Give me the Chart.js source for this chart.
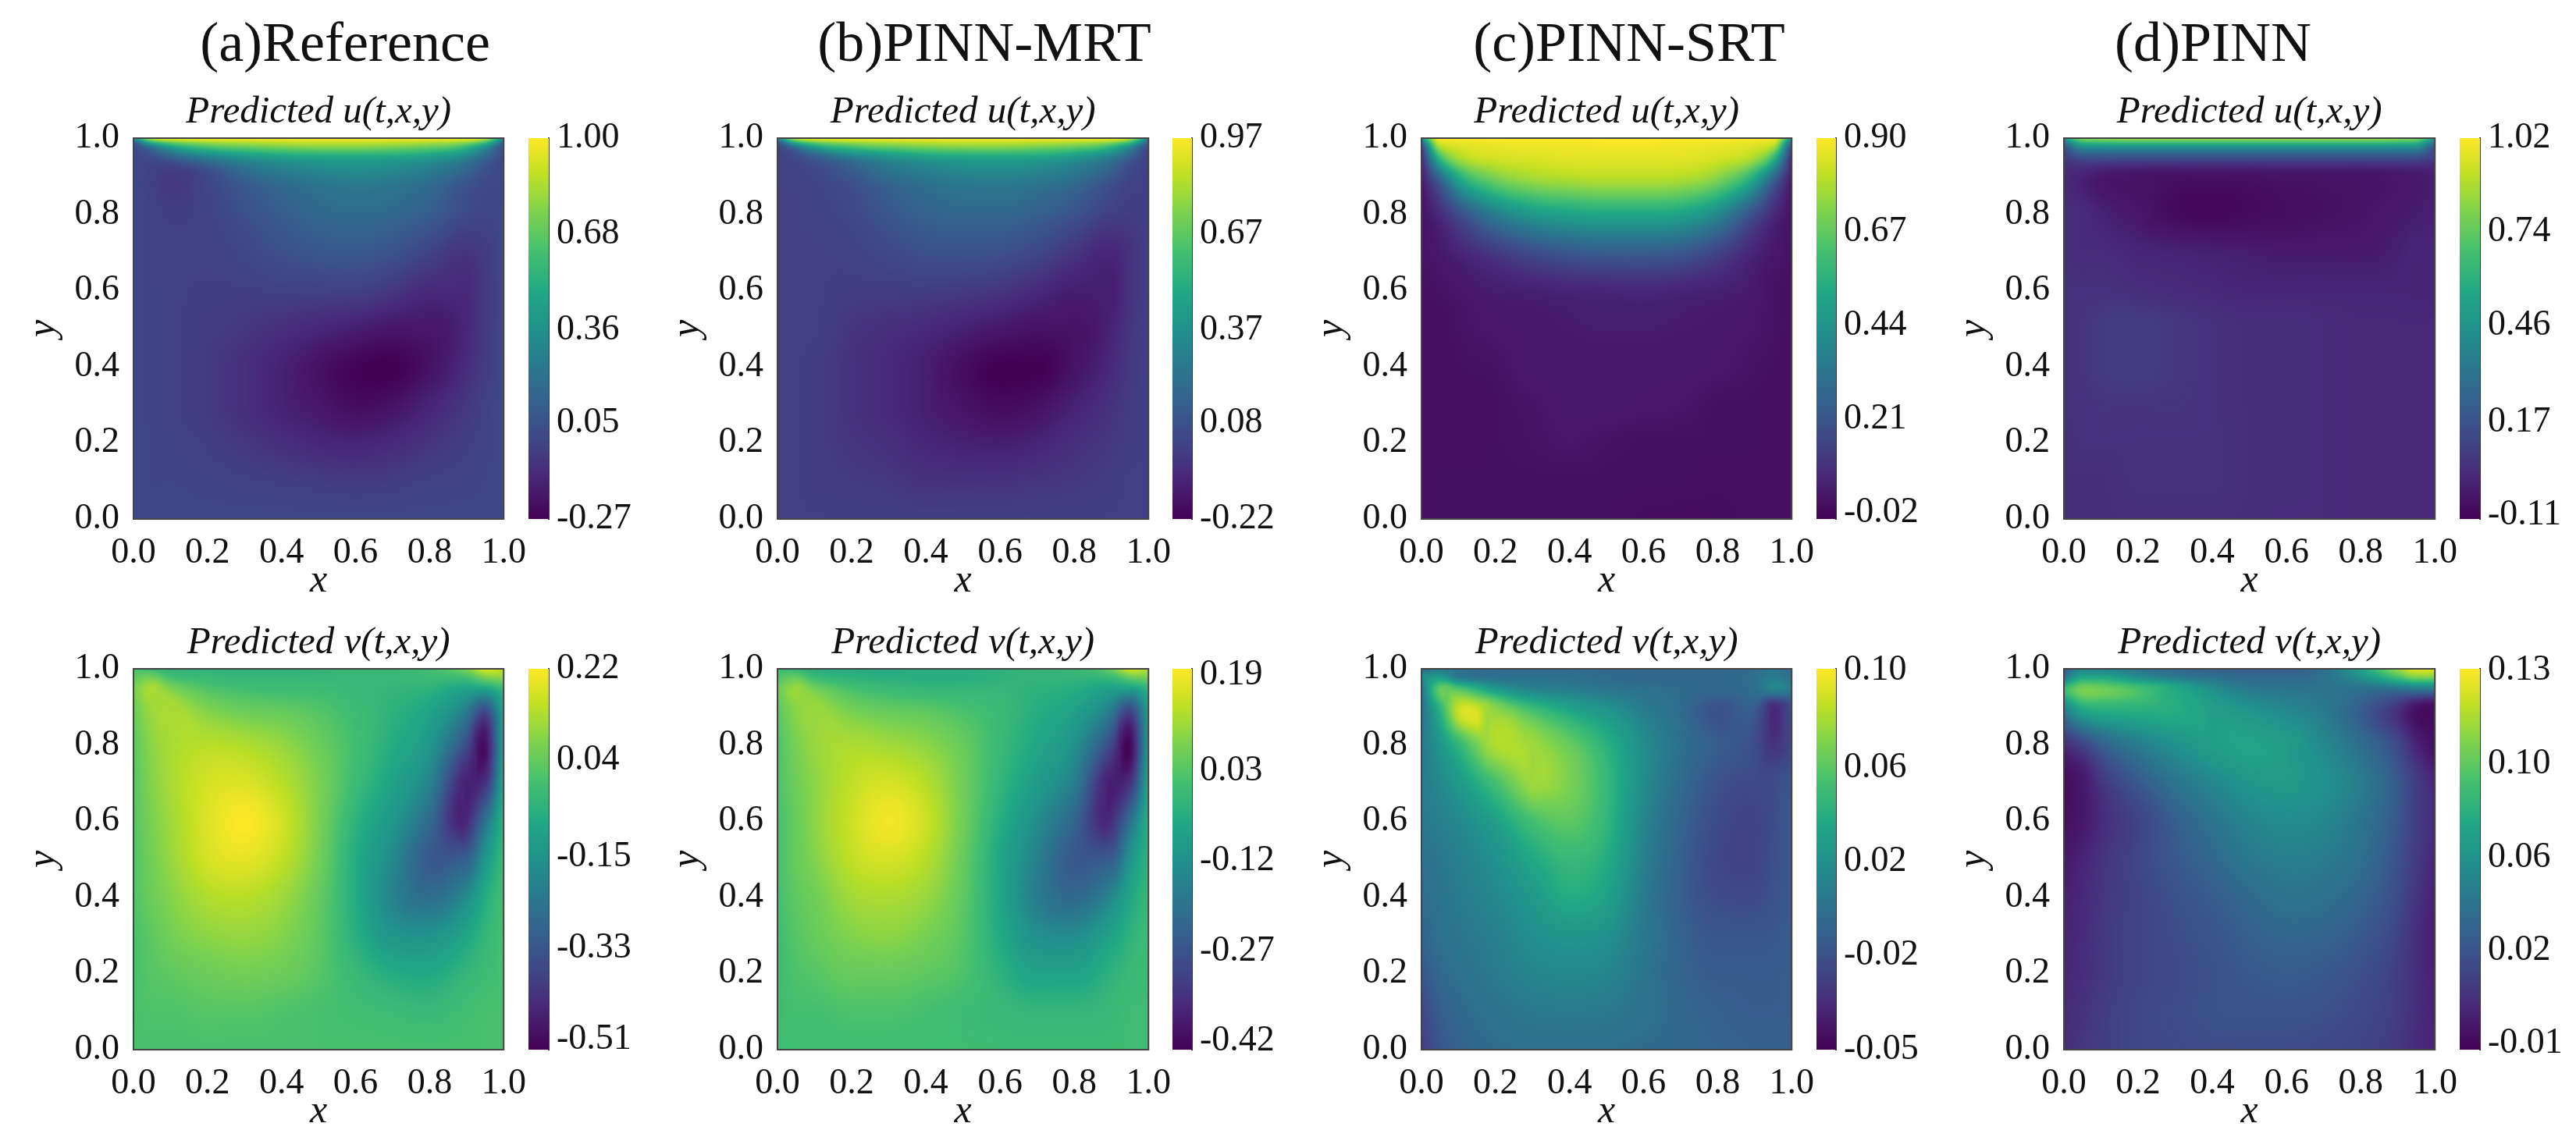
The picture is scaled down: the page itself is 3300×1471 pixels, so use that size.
<!DOCTYPE html>
<html lang="en">
<head>
<meta charset="UTF-8">
<title>Lid-driven cavity predictions</title>
<script src="https://cdn.jsdelivr.net/npm/chart.js"></script>
<style>
    body { margin: 0; background: #fff; width: 3300px; height: 1471px; position: relative; overflow: hidden; }
    canvas { position: absolute; }
    .head { position: absolute; top: 18px; font: 72px/72px "Liberation Serif", serif; color: #111; transform: translateX(-50%); white-space: nowrap; }
</style>
</head>
<body>
<script>
// grid nodes the values were read at. rows below go from y=1 (top) down to y=0
const xNodes = [0, .05, .1, .2, .3, .4, .5, .6, .7, .8, .9, .95, 1];
const yNodes = [1, .98, .95, .9, .8, .7, .6, .5, .4, .3, .2, .1, 0];

const uRef = [
    [.30, .90, 1.0, 1.0, 1.0, 1.0, 1.0, 1.0, 1.0, 1.0, 1.0, .90, .30],
    [.00, .30, .50, .68, .74, .78, .80, .80, .78, .74, .62, .42, .05],
    [.00, .03, .12, .28, .38, .44, .48, .49, .47, .42, .30, .15, .00],
    [.00, -.03, -.06, .00, .14, .22, .27, .30, .28, .22, .10, .03, .00],
    [.00, -.02, -.04, -.02, .04, .10, .15, .17, .15, .10, .01, -.01, .00],
    [.00, -.02, -.03, -.03, .00, .04, .07, .08, .05, -.02, -.08, -.05, .00],
    [.00, -.02, -.03, -.04, -.04, -.03, -.03, -.03, -.07, -.12, -.12, -.06, .00],
    [.00, -.02, -.03, -.05, -.07, -.10, -.13, -.16, -.19, -.19, -.13, -.06, .00],
    [.00, -.02, -.03, -.06, -.10, -.15, -.21, -.26, -.27, -.21, -.11, -.05, .00],
    [.00, -.02, -.03, -.06, -.10, -.15, -.19, -.23, -.21, -.14, -.07, -.03, .00],
    [.00, -.01, -.02, -.04, -.07, -.10, -.13, -.14, -.12, -.08, -.04, -.02, .00],
    [.00, -.01, -.01, -.02, -.03, -.04, -.05, -.06, -.05, -.03, -.02, -.01, .00],
    [.00, .00, .00, .00, .00, .00, .00, .00, .00, .00, .00, .00, .00]
];
const uMrt = [
    [.30, .88, .97, .97, .97, .97, .97, .97, .97, .97, .97, .88, .30],
    [.00, .30, .50, .66, .72, .76, .78, .78, .76, .72, .60, .40, .05],
    [.00, .05, .13, .28, .38, .44, .48, .49, .47, .41, .28, .14, .00],
    [.00, .01, .03, .10, .20, .26, .30, .31, .29, .23, .11, .03, .00],
    [.00, .00, .01, .04, .10, .15, .17, .17, .14, .08, .00, -.01, .00],
    [.00, .00, .00, .01, .04, .07, .08, .07, .03, -.04, -.09, -.05, .00],
    [.00, .00, .00, -.01, -.01, -.01, -.02, -.04, -.08, -.12, -.12, -.05, .00],
    [.00, .00, .00, -.04, -.06, -.08, -.11, -.14, -.16, -.16, -.10, -.04, .00],
    [.00, .00, -.01, -.05, -.08, -.12, -.18, -.22, -.22, -.16, -.08, -.03, .00],
    [.00, .00, -.01, -.05, -.08, -.12, -.16, -.19, -.17, -.11, -.05, -.02, .00],
    [.00, .00, -.01, -.04, -.06, -.09, -.11, -.12, -.10, -.06, -.03, -.01, .00],
    [.00, .00, -.01, -.02, -.03, -.05, -.05, -.05, -.04, -.03, -.01, .00, .00],
    [.00, .00, .00, .00, .00, .00, .00, .00, .00, .00, .00, .00, .00]
];
const uSrt = [
    [.45, .90, .90, .90, .90, .90, .90, .90, .90, .90, .90, .90, .45],
    [.18, .80, .85, .87, .88, .88, .89, .89, .88, .87, .85, .80, .18],
    [.08, .60, .78, .84, .85, .86, .86, .86, .86, .84, .78, .60, .08],
    [.03, .30, .54, .72, .78, .80, .81, .81, .80, .74, .54, .30, .03],
    [.01, .08, .18, .36, .46, .50, .52, .52, .50, .40, .18, .08, .01],
    [.01, .03, .06, .12, .18, .22, .24, .24, .22, .15, .06, .03, .01],
    [.00, .01, .02, .04, .05, .06, .065, .07, .06, .05, .03, .01, .00],
    [.00, .00, .01, .025, .03, .035, .04, .04, .035, .03, .02, .01, .00],
    [.00, .00, .005, .01, .03, .03, .03, .03, .03, .025, .01, .005, .00],
    [.00, .00, .00, .005, .015, .03, .03, .025, .02, .005, .005, .00, .00],
    [.00, .00, .00, .005, .01, .02, .01, .005, .005, .005, .005, .00, .00],
    [.00, .005, .005, .005, .005, .005, .005, .005, .005, .00, .00, .00, .00],
    [.00, .005, .005, .005, .005, .005, .005, -.005, -.01, -.005, .00, .00, .00]
];
const uPinn = [
    [.50, .82, .86, .88, .88, .88, .88, .88, .88, .88, .86, .82, .50],
    [.20, .48, .50, .50, .50, .50, .50, .50, .50, .50, .50, .48, .20],
    [.08, .16, .17, .17, .17, .17, .17, .17, .17, .17, .17, .16, .08],
    [.02, -.01, -.04, -.06, -.07, -.07, -.07, -.06, -.06, -.06, -.05, -.04, -.02],
    [.03, .02, -.01, -.05, -.09, -.10, -.09, -.08, -.07, -.06, -.04, -.03, -.02],
    [.03, .02, .02, .00, -.01, -.02, -.03, -.04, -.04, -.04, -.02, .00, .00],
    [.04, .04, .04, .03, .02, .01, .00, .00, .00, .00, .00, .00, .00],
    [.04, .05, .07, .08, .06, .04, .03, .03, .02, .01, .01, .01, .01],
    [.04, .05, .07, .08, .06, .04, .03, .03, .02, .01, .01, .01, .01],
    [.04, .04, .05, .05, .05, .04, .03, .03, .02, .01, .01, .01, .01],
    [.03, .04, .04, .04, .04, .04, .03, .03, .02, .01, .01, .01, .01],
    [.03, .03, .03, .04, .04, .04, .03, .03, .02, .01, .01, .01, .01],
    [.03, .03, .03, .03, .03, .03, .03, .02, .02, .01, .01, .01, .01]
];
const vRef = [
    [.00, -.02, -.05, -.05, -.05, -.05, -.04, -.03, -.03, -.01, .08, .18, .15],
    [.03, .05, -.01, -.03, -.04, -.04, -.04, -.03, -.03, -.02, .00, .08, .10],
    [.06, .12, .07, .01, -.01, -.02, -.02, -.03, -.04, -.05, -.09, -.08, -.02],
    [.05, .11, .12, .07, .04, .03, .01, -.02, -.05, -.09, -.20, -.32, -.08],
    [.03, .09, .12, .14, .13, .10, .05, -.01, -.07, -.14, -.36, -.50, -.10],
    [.02, .08, .12, .17, .18, .14, .07, -.02, -.10, -.20, -.46, -.42, -.07],
    [.02, .07, .11, .18, .22, .17, .07, -.05, -.14, -.27, -.44, -.25, -.04],
    [.01, .06, .10, .17, .19, .15, .06, -.07, -.18, -.32, -.30, -.14, -.02],
    [.01, .05, .08, .13, .14, .11, .04, -.07, -.20, -.26, -.17, -.07, -.01],
    [.00, .03, .06, .09, .10, .08, .03, -.06, -.14, -.15, -.09, -.04, .00],
    [.00, .02, .03, .05, .06, .05, .02, -.03, -.07, -.08, -.04, -.02, .00],
    [.00, .01, .01, .02, .02, .01, .00, -.01, -.02, -.03, -.01, .00, .00],
    [.00, .00, .00, .00, .00, .00, .00, .00, .00, .00, .00, .00, .00]
];
const vMrt = [
    [.00, -.02, -.04, -.05, -.05, -.04, -.04, -.03, -.02, -.01, .06, .16, .12],
    [.02, .04, -.01, -.03, -.04, -.04, -.04, -.03, -.02, -.02, .00, .06, .08],
    [.05, .10, .06, .01, -.01, -.02, -.02, -.02, -.03, -.04, -.07, -.07, -.02],
    [.04, .09, .10, .06, .04, .03, .01, -.01, -.04, -.07, -.16, -.27, -.07],
    [.02, .07, .10, .12, .11, .09, .05, -.01, -.06, -.12, -.30, -.42, -.08],
    [.02, .06, .09, .14, .16, .13, .06, -.02, -.09, -.17, -.38, -.34, -.05],
    [.01, .05, .09, .15, .19, .15, .06, -.04, -.13, -.23, -.35, -.20, -.03],
    [.01, .05, .08, .14, .16, .13, .05, -.06, -.16, -.26, -.25, -.11, -.02],
    [.01, .04, .06, .11, .12, .10, .04, -.06, -.17, -.22, -.14, -.06, -.01],
    [.00, .03, .05, .08, .09, .07, .03, -.05, -.12, -.13, -.07, -.03, .00],
    [.00, .02, .03, .05, .05, .04, .02, -.03, -.07, -.07, -.03, -.01, .00],
    [.00, .01, .01, .02, .02, .01, .00, -.01, -.02, -.02, -.01, .00, .00],
    [.00, .00, .00, .00, .00, .00, .00, .00, .00, .00, .00, .00, .00]
];
const vSrt = [
    [.000, .010, .005, .002, .002, .002, .001, .000, .000, .000, .002, .008, .000],
    [.020, .030, .010, .005, .005, .004, .002, .000, .000, .000, .005, .012, .005],
    [.010, .062, .055, .028, .015, .012, .008, .005, .002, .000, .005, .018, .012],
    [.005, .048, .086, .072, .050, .035, .025, .012, .002, -.012, -.006, -.032, -.015],
    [.010, .028, .048, .082, .078, .065, .045, .022, .005, -.006, -.015, -.028, -.018],
    [.012, .020, .030, .055, .078, .070, .050, .022, .002, -.012, -.016, -.015, -.010],
    [.010, .015, .020, .035, .055, .062, .048, .018, -.002, -.016, -.020, -.015, -.008],
    [.006, .010, .015, .025, .040, .050, .042, .015, -.004, -.018, -.020, -.014, -.008],
    [.002, .007, .012, .020, .030, .042, .035, .012, -.005, -.015, -.016, -.012, -.007],
    [-.002, .005, .009, .015, .024, .028, .025, .010, -.003, -.010, -.010, -.009, -.006],
    [-.010, .000, .005, .012, .018, .020, .018, .008, -.002, -.007, -.007, -.007, -.005],
    [-.018, -.006, .000, .007, .011, .012, .011, .006, .000, -.004, -.006, -.006, -.005],
    [-.024, -.010, -.004, .002, .005, .005, .004, .002, .000, -.002, -.004, -.004, -.004]
];
const vPinn = [
    [.030, .050, .050, .040, .035, .030, .030, .030, .040, .070, .110, .125, .125],
    [.040, .070, .070, .055, .045, .040, .035, .035, .040, .060, .090, .105, .105],
    [.080, .100, .098, .087, .073, .056, .045, .042, .042, .042, .045, .050, .050],
    [.052, .076, .080, .079, .076, .067, .059, .052, .045, .030, .009, -.005, -.008],
    [.005, .016, .030, .047, .059, .067, .070, .066, .054, .039, .019, .002, -.007],
    [-.008, -.003, .009, .027, .042, .053, .062, .064, .059, .047, .027, .013, .002],
    [-.007, -.003, .005, .016, .030, .042, .052, .056, .053, .042, .026, .013, .005],
    [-.003, .002, .008, .017, .027, .035, .045, .049, .047, .039, .023, .012, .002],
    [.000, .004, .009, .016, .023, .029, .036, .042, .040, .033, .020, .009, .000],
    [.002, .005, .010, .016, .021, .025, .031, .034, .033, .027, .016, .006, -.001],
    [.003, .006, .010, .016, .020, .023, .027, .029, .027, .022, .013, .006, .000],
    [.005, .008, .012, .018, .021, .023, .024, .024, .023, .019, .012, .006, .001],
    [.006, .010, .013, .018, .020, .021, .021, .021, .019, .016, .010, .005, .002]
];

// colorbar ranges and ticks
const uRefRange = [-.27, 1.0], uRefTicks = [1.0, .68, .36, .05, -.27], uRefLabels = ['1.00', '0.68', '0.36', '0.05', '-0.27'];
const uMrtRange = [-.22, .97], uMrtTicks = [.97, .67, .37, .08, -.22], uMrtLabels = ['0.97', '0.67', '0.37', '0.08', '-0.22'];
const uSrtRange = [-.035, .90], uSrtTicks = [.90, .67, .44, .21, -.02], uSrtLabels = ['0.90', '0.67', '0.44', '0.21', '-0.02'];
const uPinnRange = [-.121, 1.02], uPinnTicks = [1.02, .74, .46, .17, -.11], uPinnLabels = ['1.02', '0.74', '0.46', '0.17', '-0.11'];
const vRefRange = [-.53, .22], vRefTicks = [.22, .04, -.15, -.33, -.51], vRefLabels = ['0.22', '0.04', '-0.15', '-0.33', '-0.51'];
const vMrtRange = [-.434, .20], vMrtTicks = [.19, .03, -.12, -.27, -.42], vMrtLabels = ['0.19', '0.03', '-0.12', '-0.27', '-0.42'];
const vSrtRange = [-.05, .1005], vSrtTicks = [.0999, .0614, .0245, -.0126, -.05], vSrtLabels = ['0.10', '0.06', '0.02', '-0.02', '-0.05'];
const vPinnRange = [-.0125, .1306], vPinnTicks = [.13, .0948, .0597, .0249, -.01], vPinnLabels = ['0.13', '0.10', '0.06', '0.02', '-0.01'];

const axisTicks = [0, .2, .4, .6, .8, 1];
const columnTitles = ['(a)Reference', '(b)PINN-MRT', '(c)PINN-SRT', '(d)PINN'];
const viridis = ['#440154', '#482475', '#414487', '#355f8d', '#2a788e', '#21918c', '#22a884', '#44bf70', '#7ad151', '#bddf26', '#fde725'];

Chart.defaults.font.family = '"Liberation Serif", serif';
Chart.defaults.color = '#111';
Chart.defaults.animation = false;
Chart.defaults.devicePixelRatio = 1;

const viridisRgb = viridis.map(h => [1, 3, 5].map(i => parseInt(h.substr(i, 2), 16)));
function colorAt(t) {
    t = Math.min(1, Math.max(0, t)) * (viridisRgb.length - 1);
    const i = Math.min(viridisRgb.length - 2, Math.floor(t)), f = t - i;
    return viridisRgb[i].map((c, k) => c + (viridisRgb[i + 1][k] - c) * f);
}

// slopes for the shading between read nodes, limited by the flatter neighbour
function slopes(xs, ys) {
    const d = [], m = new Array(xs.length).fill(0);
    for (let i = 0; i < xs.length - 1; i++) d.push((ys[i + 1] - ys[i]) / (xs[i + 1] - xs[i]));
    m[0] = d[0];
    m[xs.length - 1] = d[d.length - 1];
    for (let i = 1; i < xs.length - 1; i++) {
        const h0 = xs[i] - xs[i - 1], h1 = xs[i + 1] - xs[i];
        const c = (d[i - 1] * h1 + d[i] * h0) / (h0 + h1);
        const lim = 3 * Math.min(Math.abs(d[i - 1]), Math.abs(d[i]));
        m[i] = Math.sign(c) * Math.min(Math.abs(c), lim);
    }
    return m;
}
function hermite(xs, ys, ms, x) {
    let i = 0;
    while (i < xs.length - 2 && x > xs[i + 1]) i++;
    const h = xs[i + 1] - xs[i], s = (x - xs[i]) / h;
    const s2 = s * s, s3 = s2 * s;
    return (2 * s3 - 3 * s2 + 1) * ys[i] + (s3 - 2 * s2 + s) * h * ms[i] + (3 * s2 - 2 * s3) * ys[i + 1] + (s3 - s2) * h * ms[i + 1];
}

// paints the field under the axes, every pixel goes through the chart scales
const fieldPlugin = {
    id: 'field',
    beforeDatasetsDraw(chart) {
        const { rows, range } = chart.config.options.plugins.field;
        const area = chart.chartArea, sx = chart.scales.x, sy = chart.scales.y;
        const left = Math.round(area.left), top = Math.round(area.top);
        const w = Math.round(area.right) - left, h = Math.round(area.bottom) - top;
        const img = chart.ctx.createImageData(w, h);
        const yAsc = [...yNodes].reverse();
        const rowSlopes = rows.map(r => slopes(xNodes, r));
        const yVals = [];
        for (let j = 0; j < h; j++) yVals.push(sy.getValueForPixel(top + j + .5));
        for (let i = 0; i < w; i++) {
            const x = sx.getValueForPixel(left + i + .5);
            const col = rows.map((r, k) => hermite(xNodes, r, rowSlopes[k], x)).reverse();
            const m = slopes(yAsc, col);
            for (let j = 0; j < h; j++) {
                const v = hermite(yAsc, col, m, yVals[j]);
                const c = colorAt((v - range[0]) / (range[1] - range[0]));
                const p = (j * w + i) * 4;
                img.data[p] = c[0]; img.data[p + 1] = c[1]; img.data[p + 2] = c[2]; img.data[p + 3] = 255;
            }
        }
        chart.ctx.putImageData(img, left, top);
    },
    afterDatasetsDraw(chart) {
        const a = chart.chartArea, ctx = chart.ctx;
        ctx.save();
        ctx.strokeStyle = '#444';
        ctx.lineWidth = 2;
        ctx.strokeRect(a.left, a.top, a.right - a.left, a.bottom - a.top);
        ctx.restore();
    }
};

const barPlugin = {
    id: 'bar',
    beforeDatasetsDraw(chart) {
        const a = chart.chartArea, ctx = chart.ctx;
        const g = ctx.createLinearGradient(0, a.bottom, 0, a.top);
        viridis.forEach((c, i) => g.addColorStop(i / (viridis.length - 1), c));
        ctx.fillStyle = g;
        ctx.fillRect(a.left, a.top, a.right - a.left, a.bottom - a.top);
    }
};

function addCanvas(left, top, w, h) {
    const c = document.createElement('canvas');
    c.width = w; c.height = h;
    c.style.left = left + 'px';
    c.style.top = top + 'px';
    document.body.appendChild(c);
    return c;
}

const tickFont = { size: 46 };
const labelFont = { size: 50, style: 'italic' };
const marginLeft = 145, marginTop = 57, marginBottom = 110, marginRight = 34;

function drawPanel(plot, name, rows, range, ticks, labels) {
    const points = [];
    rows.forEach((r, j) => r.forEach((v, i) => points.push({ x: xNodes[i], y: yNodes[j], v })));
    const w = plot.right - plot.left, h = plot.bottom - plot.top;
    const axis = (pos, text) => ({
        type: 'linear', position: pos, min: 0, max: 1,
        afterBuildTicks: s => { s.ticks = axisTicks.map(value => ({ value })); },
        afterFit: s => {
            if (pos === 'bottom') s.height = marginBottom; else s.width = marginLeft;
        },
        grid: { display: false, drawTicks: true, tickLength: 8, tickColor: '#333', tickWidth: 2 },
        border: { color: '#444', width: 2 },
        ticks: { font: tickFont, color: '#111', padding: pos === 'bottom' ? 8 : 10, maxRotation: 0, autoSkip: false, callback: v => v.toFixed(1) },
        title: { display: true, text, font: labelFont, color: '#111', padding: 0 }
    });
    new Chart(addCanvas(plot.left - marginLeft, plot.top - marginTop, w + marginLeft + marginRight, h + marginTop + marginBottom), {
        type: 'scatter',
        data: { datasets: [{ data: points, pointRadius: 0 }] },
        options: {
            responsive: false,
            layout: { padding: { right: marginRight } },
            scales: { x: axis('bottom', 'x'), y: axis('left', 'y') },
            plugins: {
                legend: { display: false },
                tooltip: { enabled: false },
                field: { rows, range },
                title: {
                    display: true, fullSize: false, text: 'Predicted ' + name + '(t,x,y)',
                    font: { size: 49, style: 'italic', weight: 'normal', lineHeight: 1 },
                    color: '#111', padding: { top: 0, bottom: 8 }
                }
            }
        },
        plugins: [fieldPlugin]
    });

    const cbMargin = 30, cbAxis = 130;
    new Chart(addCanvas(plot.barLeft, plot.top - cbMargin, plot.barWidth + cbAxis, h + 2 * cbMargin), {
        type: 'scatter',
        data: { datasets: [{ data: [] }] },
        options: {
            responsive: false,
            layout: { padding: { top: cbMargin, bottom: cbMargin } },
            scales: {
                x: { display: false },
                y: {
                    type: 'linear', position: 'right', min: range[0], max: range[1],
                    afterBuildTicks: s => { s.ticks = ticks.map(value => ({ value })); },
                    afterFit: s => { s.width = cbAxis; },
                    grid: { display: false, tickLength: 8, tickColor: '#333', tickWidth: 2 },
                    border: { color: '#333', width: 2 },
                    ticks: { font: tickFont, color: '#111', padding: 2, autoSkip: false, callback: (v, i) => labels[i] }
                }
            },
            plugins: { legend: { display: false }, tooltip: { enabled: false } }
        },
        plugins: [barPlugin]
    });
}

const panelX = [
    { left: 171, right: 648, barLeft: 677, barWidth: 26 },
    { left: 996, right: 1474, barLeft: 1502, barWidth: 25 },
    { left: 1821, right: 2298, barLeft: 2327, barWidth: 25 },
    { left: 2644, right: 3122, barLeft: 3151, barWidth: 26 }
];
const topRow = { top: 177, bottom: 665 }, bottomRow = { top: 857, bottom: 1345 };

drawPanel({ ...panelX[0], ...topRow }, 'u', uRef, uRefRange, uRefTicks, uRefLabels);
drawPanel({ ...panelX[1], ...topRow }, 'u', uMrt, uMrtRange, uMrtTicks, uMrtLabels);
drawPanel({ ...panelX[2], ...topRow }, 'u', uSrt, uSrtRange, uSrtTicks, uSrtLabels);
drawPanel({ ...panelX[3], ...topRow }, 'u', uPinn, uPinnRange, uPinnTicks, uPinnLabels);
drawPanel({ ...panelX[0], ...bottomRow }, 'v', vRef, vRefRange, vRefTicks, vRefLabels);
drawPanel({ ...panelX[1], ...bottomRow }, 'v', vMrt, vMrtRange, vMrtTicks, vMrtLabels);
drawPanel({ ...panelX[2], ...bottomRow }, 'v', vSrt, vSrtRange, vSrtTicks, vSrtLabels);
drawPanel({ ...panelX[3], ...bottomRow }, 'v', vPinn, vPinnRange, vPinnTicks, vPinnLabels);

const headCenters = [442, 1261, 2087, 2835];
columnTitles.forEach((t, i) => {
    const d = document.createElement('div');
    d.className = 'head';
    d.textContent = t;
    d.style.left = headCenters[i] + 'px';
    document.body.appendChild(d);
});
</script>
</body>
</html>
